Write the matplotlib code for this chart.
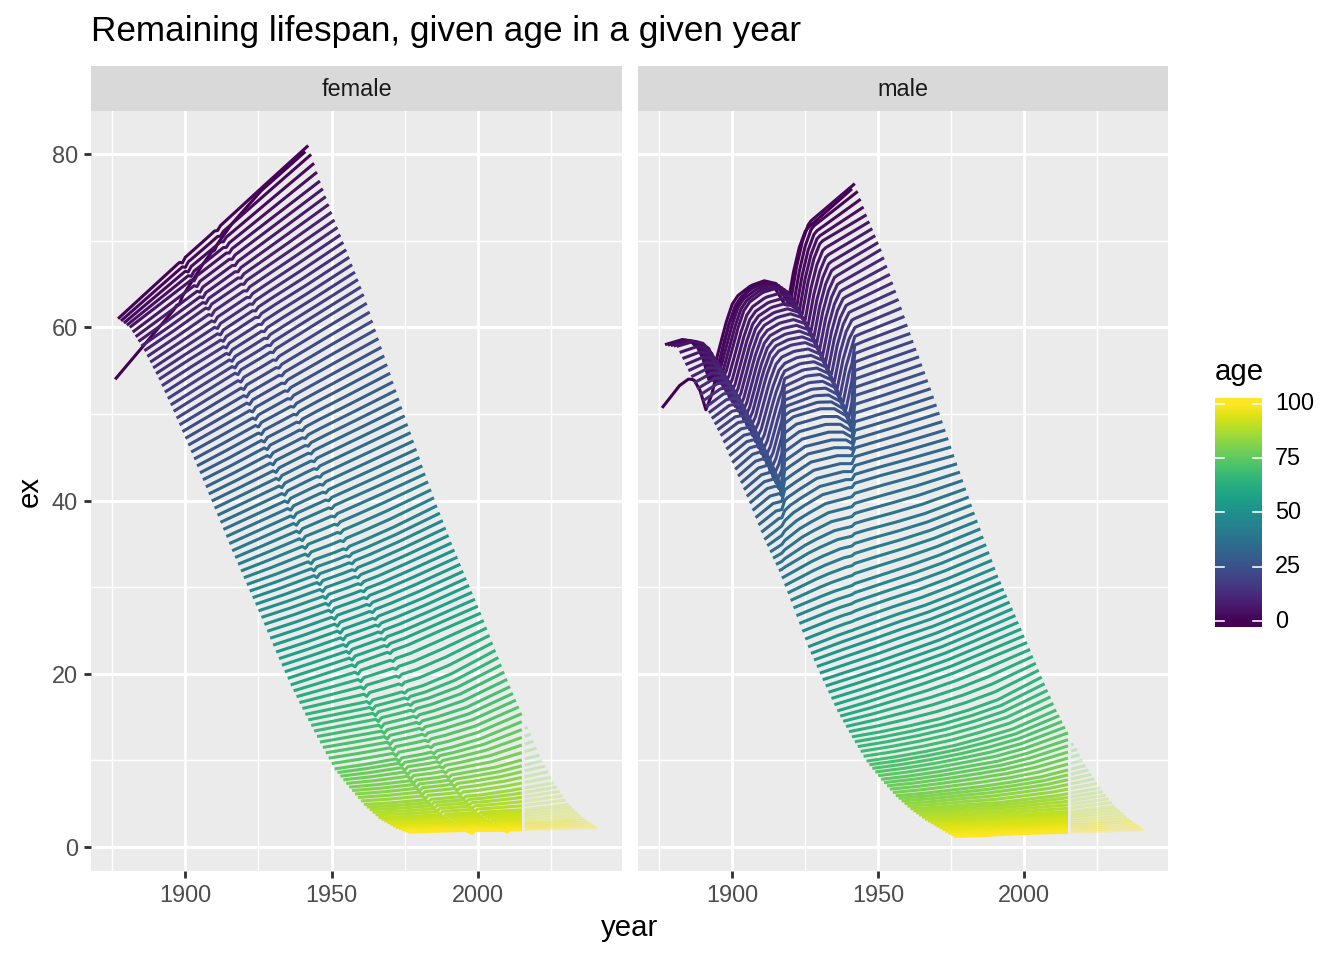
import numpy as np
import matplotlib
matplotlib.use("Agg")
import matplotlib.pyplot as plt
from matplotlib.collections import LineCollection

# ---- data ----------------------------------------------------------------
# remaining lifespan (ex) at knot ages, for knot birth cohorts
AGE_KNOTS = [0, 1, 5, 10, 15, 20, 25, 30, 35, 40, 45, 50,
             55, 60, 65, 70, 75, 80, 85, 90, 95, 100]
COHORT_KNOTS = [1876, 1886, 1896, 1906, 1916, 1926, 1941]

FEMALE_EX = [
    [54.0, 58.0, 62.0, 67.3, 72.0, 75.8, 80.3],
    [61.0, 64.1, 67.2, 70.2, 73.3, 76.4, 81.0],
    [60.0, 62.6, 65.2, 67.8, 70.4, 73.0, 76.9],
    [57.3, 59.6, 62.0, 64.3, 66.6, 68.9, 72.4],
    [54.0, 56.2, 58.3, 60.5, 62.7, 64.8, 68.1],
    [50.3, 52.4, 54.5, 56.5, 58.6, 60.7, 63.8],
    [46.4, 48.3, 50.2, 52.1, 54.0, 55.9, 58.7],
    [42.4, 44.1, 45.9, 47.6, 49.4, 51.1, 53.7],
    [38.3, 39.9, 41.5, 43.2, 44.8, 46.4, 48.8],
    [34.2, 35.7, 37.2, 38.7, 40.2, 41.7, 44.0],
    [30.3, 31.5, 32.8, 34.0, 35.4, 36.9, 39.4],
    [26.5, 27.6, 28.8, 30.0, 31.3, 32.8, 35.1],
    [22.5, 23.6, 24.8, 26.0, 27.3, 28.7, 31.0],
    [18.7, 19.8, 20.9, 22.1, 23.3, 24.8, 27.0],
    [15.3, 16.0, 16.7, 17.6, 18.6, 20.0, 22.7],
    [12.1, 12.7, 13.3, 14.1, 15.0, 16.1, 18.5],
    [9.0, 9.5, 10.1, 10.7, 11.5, 12.5, 14.6],
    [6.9, 7.2, 7.6, 8.0, 8.6, 9.2, 10.6],
    [4.9, 5.1, 5.4, 5.7, 6.0, 6.5, 7.4],
    [3.4, 3.5, 3.7, 3.9, 4.1, 4.3, 4.9],
    [2.4, 2.5, 2.6, 2.7, 2.8, 2.9, 3.3],
    [1.7, 1.8, 1.9, 1.9, 2.0, 2.1, 2.2],
]

MALE_EX = [
    [50.7, 55.5, 59.5, 65.0, 67.3, 71.5, 76.0],
    [58.0, 59.5, 62.5, 65.3, 67.5, 72.3, 76.6],
    [57.8, 59.3, 61.8, 64.5, 66.5, 70.0, 73.0],
    [54.3, 56.5, 59.3, 61.6, 63.5, 66.0, 69.0],
    [50.8, 53.8, 56.6, 58.4, 60.0, 61.9, 64.2],
    [47.5, 50.5, 53.0, 54.8, 56.2, 57.5, 59.3],
    [43.6, 47.0, 49.8, 51.0, 52.0, 53.1, 54.8],
    [39.7, 43.0, 45.5, 46.5, 47.5, 48.5, 50.1],
    [35.5, 38.6, 40.8, 41.9, 42.9, 43.8, 45.2],
    [31.9, 33.9, 35.6, 36.6, 37.5, 38.5, 40.4],
    [27.6, 29.0, 30.3, 31.4, 32.5, 33.7, 35.8],
    [23.1, 24.4, 25.6, 26.8, 27.9, 29.2, 31.3],
    [19.3, 20.4, 21.5, 22.7, 23.9, 25.3, 27.5],
    [15.7, 16.7, 17.8, 18.9, 20.1, 21.5, 23.6],
    [12.7, 13.3, 14.0, 14.8, 15.8, 17.0, 19.6],
    [9.9, 10.4, 11.0, 11.7, 12.6, 13.6, 15.8],
    [7.8, 8.2, 8.7, 9.3, 9.9, 10.8, 12.5],
    [5.9, 6.2, 6.6, 7.0, 7.5, 8.1, 9.4],
    [4.4, 4.6, 4.9, 5.1, 5.5, 5.9, 6.8],
    [3.2, 3.3, 3.5, 3.7, 3.9, 4.1, 4.7],
    [2.2, 2.3, 2.4, 2.5, 2.7, 2.8, 3.2],
    [1.2, 1.3, 1.5, 1.6, 1.7, 1.8, 2.0],
]

# male cohorts lose remaining years before each war year (the two V notches)
WAR1_COHORTS = [1876, 1882, 1885, 1887, 1889, 1891, 1893, 1895, 1897, 1899, 1901]
WAR1_LOSS = [0.0, 0.3, 1.0, 2.0, 4.0, 7.0, 6.0, 4.0, 2.0, 0.5, 0.0]
WAR1_YEAR = 1918
WAR2_COHORTS = [1890, 1905, 1910, 1914, 1916, 1918, 1919, 1921, 1923, 1925]
WAR2_LOSS = [0.0, 0.3, 0.8, 2.0, 3.5, 5.5, 6.0, 3.0, 1.0, 0.0]
WAR2_YEAR = 1942

# single female cohorts that sit a little low (the thin diagonals)
FEMALE_DIP_COHORTS = [1898, 1910]
FEMALE_DIP = [0.35, 0.25]

AGES = np.arange(0, 101)
COHORTS = np.arange(1876, 1942)
LAST_OBSERVED = 2015
SEXES = ["female", "male"]

W, H = 1344, 960


def ex_surface(table):
    tab = np.array(table)
    by_age = np.array([np.interp(AGES, AGE_KNOTS, tab[:, j])
                       for j in range(len(COHORT_KNOTS))]).T
    return np.array([np.interp(COHORTS, COHORT_KNOTS, row) for row in by_age])


years = COHORTS[None, :] + AGES[:, None]

female = ex_surface(FEMALE_EX)
for c, d in zip(FEMALE_DIP_COHORTS, FEMALE_DIP):
    female[:, COHORTS == c] -= d

male = ex_surface(MALE_EX)
loss1 = np.interp(COHORTS, WAR1_COHORTS, WAR1_LOSS, left=0, right=0)
loss2 = np.interp(COHORTS, WAR2_COHORTS, WAR2_LOSS, left=0, right=0)
male = male - loss1[None, :] * (years < WAR1_YEAR) - loss2[None, :] * (years < WAR2_YEAR)
surfaces = {"female": female, "male": male}

plt.rcParams["font.family"] = ["Liberation Sans", "DejaVu Sans"]
fig = plt.figure(figsize=(W / 192, H / 192), dpi=192)


def px_axes(left, top, right, bottom):
    return fig.add_axes([left / W, 1 - bottom / H, (right - left) / W, (bottom - top) / H])


ymin = min(s.min() for s in surfaces.values())
ymax = max(s.max() for s in surfaces.values())
yr = ymax - ymin
xmin, xmax = years.min(), years.max()
xr = xmax - xmin
cmap = plt.get_cmap("viridis")

panels = {"female": (91, 622), "male": (638, 1168)}
for sex in SEXES:
    left, right = panels[sex]
    ax = px_axes(left, 111, right, 871)
    ax.set_facecolor("#EBEBEB")
    for sp in ax.spines.values():
        sp.set_visible(False)
    ax.set_xlim(xmin - 0.05 * xr, xmax + 0.05 * xr)
    ax.set_ylim(ymin - 0.05 * yr, ymax + 0.05 * yr)
    ax.set_xticks([1900, 1950, 2000])
    ax.set_xticks([1875, 1925, 1975, 2025], minor=True)
    ax.set_yticks([0, 20, 40, 60, 80])
    ax.set_yticks([10, 30, 50, 70], minor=True)
    ax.grid(which="major", color="white", linewidth=1.07)
    ax.grid(which="minor", color="white", linewidth=0.53)
    ax.set_axisbelow(True)
    ax.tick_params(which="major", length=2.75, width=1.07, color="#333333",
                   labelsize=8.8, labelcolor="#4D4D4D", pad=2.2)
    ax.tick_params(which="minor", length=0)
    if sex == "male":
        ax.tick_params(axis="y", which="both", left=False, labelleft=False)

    ex = surfaces[sex]
    solid, solid_c, faded, faded_c = [], [], [], []
    for i, a in enumerate(AGES):
        yrs = years[i]
        col = cmap(a / 100)
        m = yrs <= LAST_OBSERVED
        if m.sum() > 1:
            solid.append(np.column_stack([yrs[m], ex[i][m]]))
            solid_c.append(col)
        m = yrs > LAST_OBSERVED
        if m.sum() > 1:
            faded.append(np.column_stack([yrs[m], ex[i][m]]))
            faded_c.append(col[:3] + (0.3,))
    ax.add_collection(LineCollection(solid, colors=solid_c, linewidths=1.15,
                                     capstyle="butt", joinstyle="round"))
    ax.add_collection(LineCollection(faded, colors=faded_c, linewidths=1.15,
                                     capstyle="butt", joinstyle="round"))

    # facet strip
    sax = px_axes(left, 66, right, 111)
    sax.set_facecolor("#D9D9D9")
    sax.set_xticks([])
    sax.set_yticks([])
    for sp in sax.spines.values():
        sp.set_visible(False)
    sax.text(0.5, 0.47, sex, ha="center", va="center", fontsize=8.8,
             color="#1A1A1A", transform=sax.transAxes)

# titles
fig.text(91 / W, 1 - 41 / H, "Remaining lifespan, given age in a given year",
         fontsize=13.2, ha="left", va="baseline")
fig.text(629.5 / W, 1 - 928 / H, "year", fontsize=11, ha="center", va="center")
fig.text(30 / W, 1 - 491 / H, "ex", fontsize=11, ha="center", va="center", rotation=90)

# colour bar legend
lo, hi = -100 / 19 / 2, 100 + 100 / 19 / 2
cax = px_axes(1215, 398, 1262, 627)
grad = np.linspace(lo, hi, 300).reshape(-1, 1)
cax.imshow(grad, cmap="viridis", vmin=0, vmax=100, origin="lower",
           extent=[0, 1, lo, hi], aspect="auto")
cax.set_xlim(0, 1)
cax.set_ylim(lo, hi)
cax.set_xticks([])
cax.set_yticks([])
for sp in cax.spines.values():
    sp.set_visible(False)
for v in [0, 25, 50, 75, 100]:
    cax.plot([0, 0.2], [v, v], color="white", linewidth=0.6)
    cax.plot([0.8, 1], [v, v], color="white", linewidth=0.6)
    ypx = 627 - (v - lo) * 229 / (hi - lo)
    fig.text(1275 / W, 1 - ypx / H, str(v), fontsize=8.8, ha="left", va="center")
fig.text(1215 / W, 1 - 372 / H, "age", fontsize=11, ha="left", va="center")

fig.savefig("out.png", dpi=192)
